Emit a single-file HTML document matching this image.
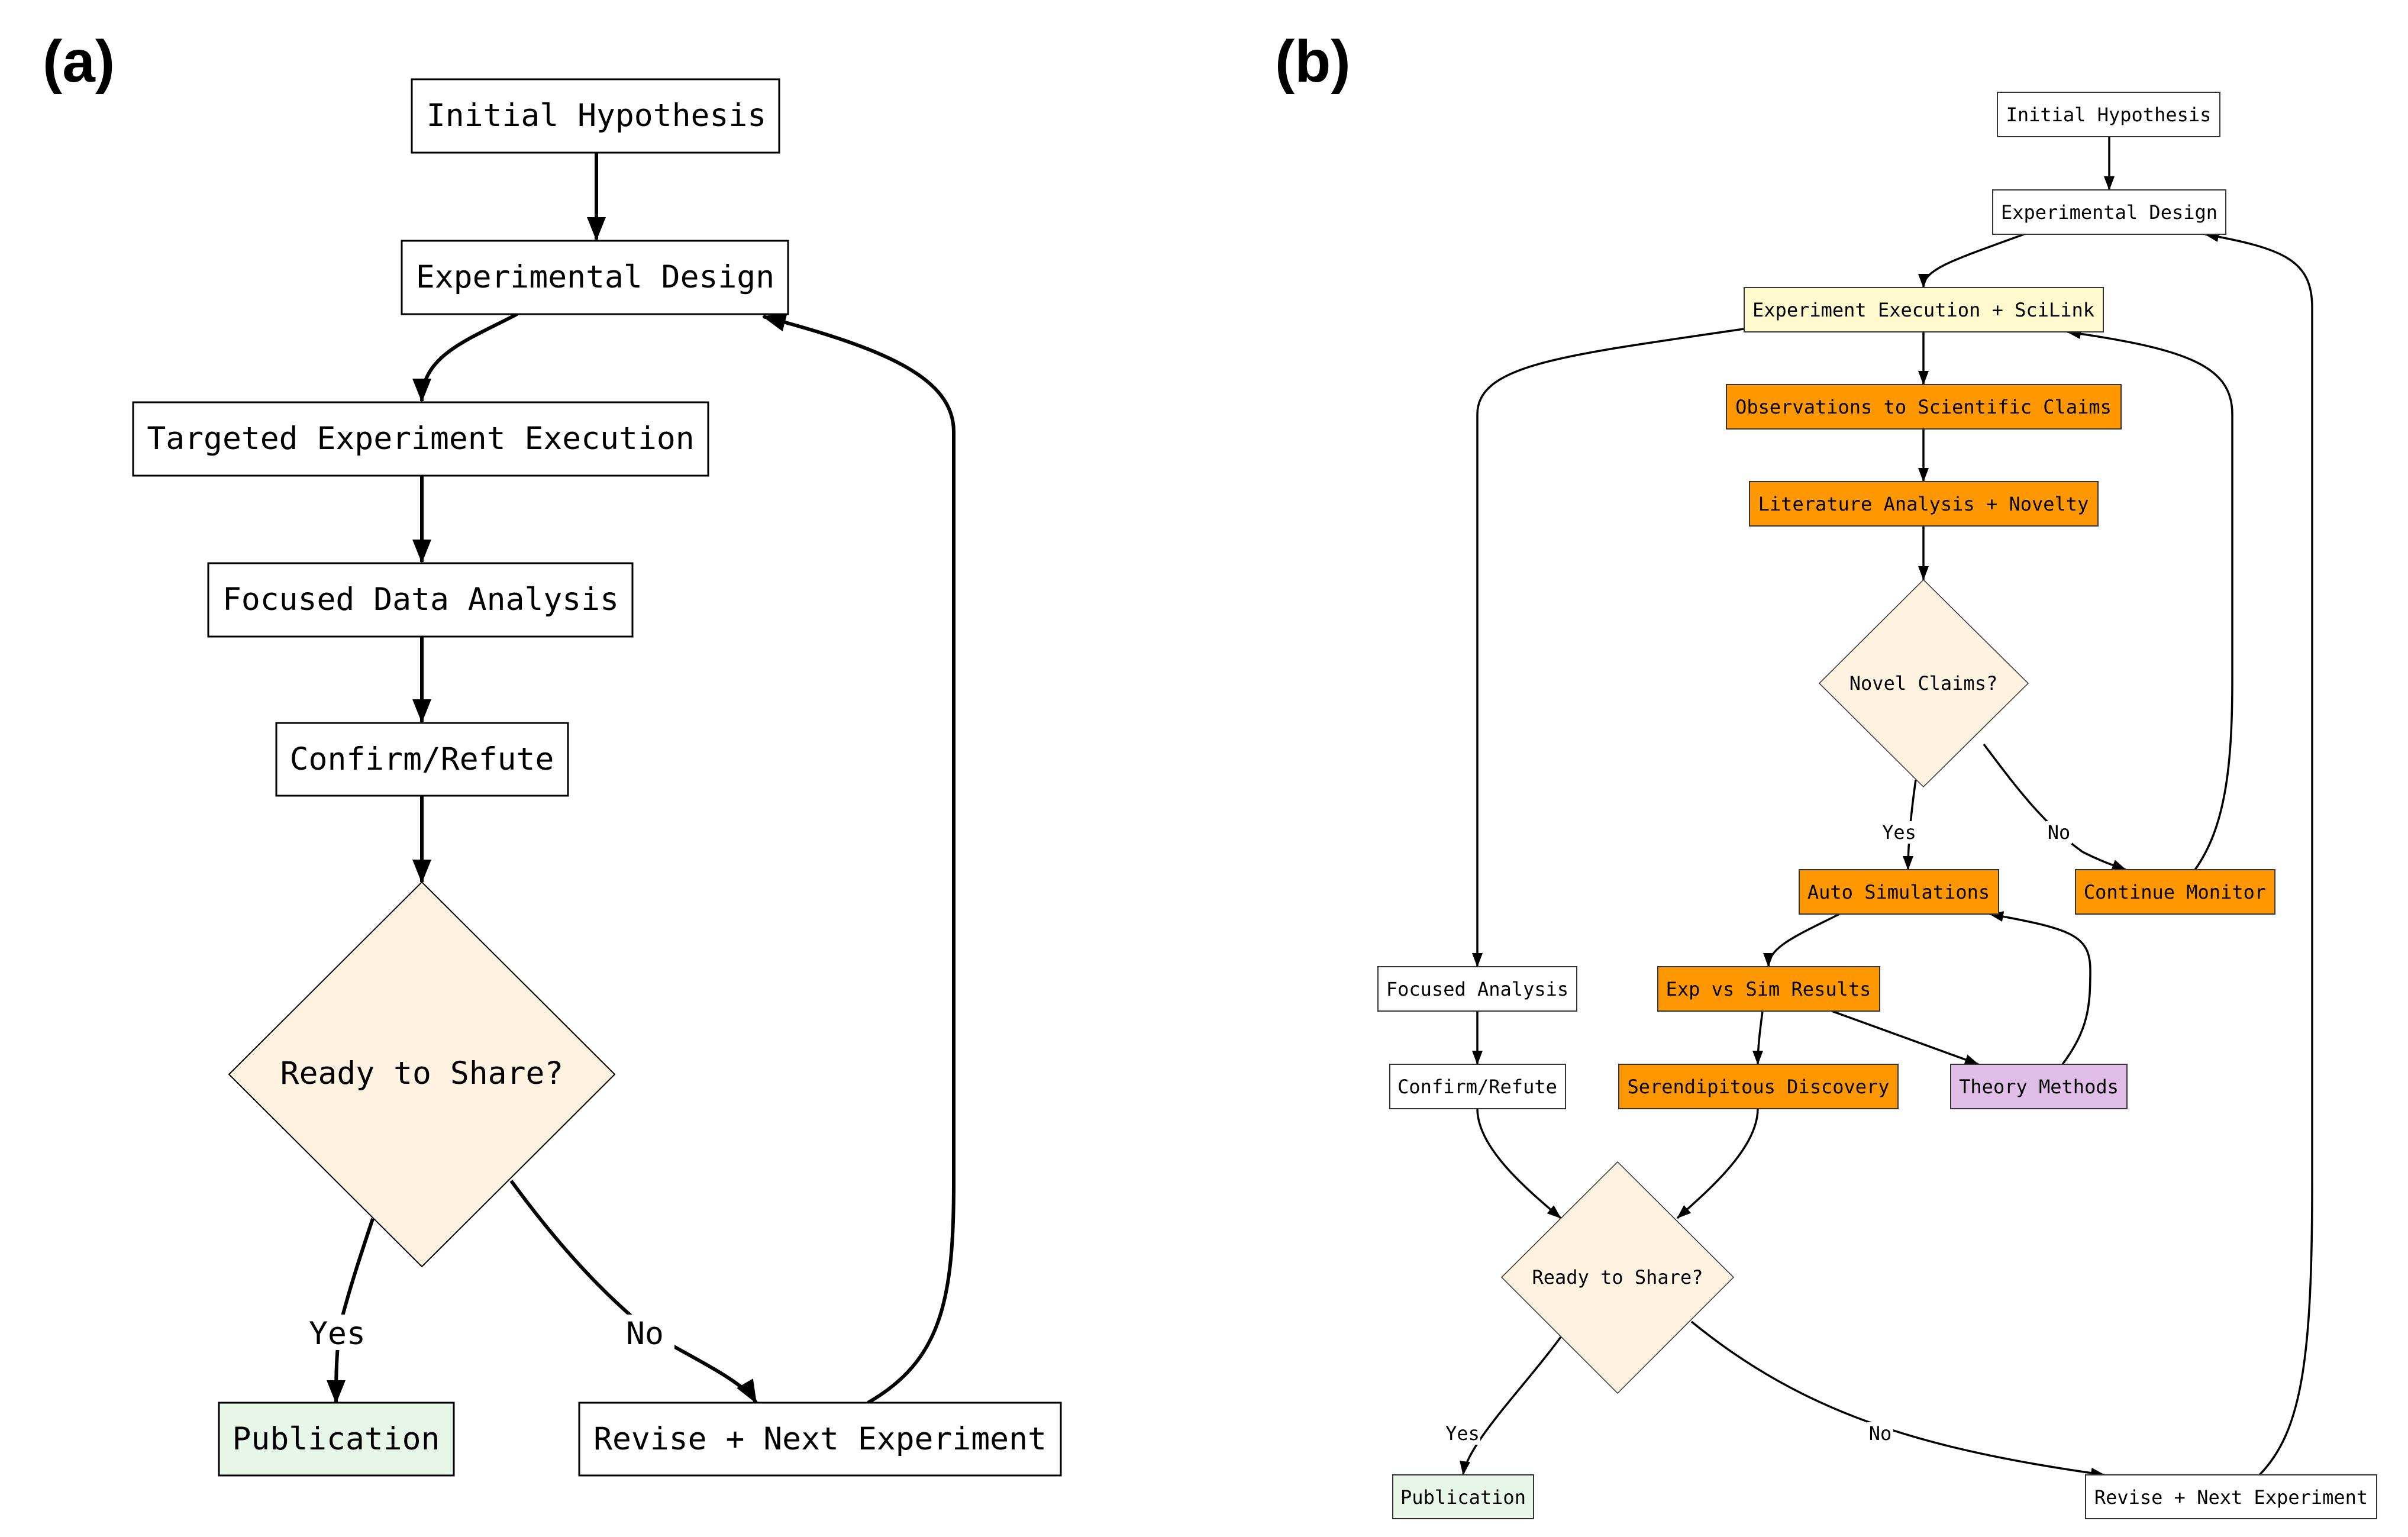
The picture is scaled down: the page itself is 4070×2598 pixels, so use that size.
<!DOCTYPE html>
<html><head><meta charset="utf-8"><style>
html,body{margin:0;padding:0;background:#fff;}
svg{display:block;}
.ta{font-family:"DejaVu Sans Mono","Liberation Mono",monospace;font-size:53px;fill:#000;}
.tb{font-family:"DejaVu Sans Mono","Liberation Mono",monospace;font-size:32px;fill:#000;}
</style></head><body>
<svg width="4070" height="2598" viewBox="0 0 4070 2598" xmlns="http://www.w3.org/2000/svg">
<defs>
<marker id="ma" markerUnits="userSpaceOnUse" markerWidth="40" markerHeight="40" viewBox="0 0 40 40" refX="38" refY="20" orient="auto"><path d="M0,4 L40,20 L0,36 z" fill="#000"/></marker>
<marker id="mb" markerUnits="userSpaceOnUse" markerWidth="24" markerHeight="24" viewBox="0 0 24 24" refX="23" refY="12" orient="auto"><path d="M0,3 L24,12 L0,21 z" fill="#000"/></marker>
</defs>
<rect width="4070" height="2598" fill="#fff"/>
<text x="72" y="138" font-family="Liberation Sans,sans-serif" font-weight="bold" font-size="100">(a)</text>
<text x="2155" y="138" font-family="Liberation Sans,sans-serif" font-weight="bold" font-size="100">(b)</text>

<!-- Panel A edges -->
<g fill="none" stroke="#000" stroke-width="6" marker-end="url(#ma)">
<path d="M1008,258 L1008,405"/>
<path d="M874,531 C790,575 713,600 713,678"/>
<path d="M713,804 L713,950"/>
<path d="M713,1077 L713,1220"/>
<path d="M713,1343 C713,1400 713,1440 713,1491"/>
<path d="M630,2060 C610,2120 590,2180 575,2240 C568,2290 568,2330 568,2371"/>
<path d="M864,1996 C940,2100 1020,2190 1110,2260 C1200,2310 1260,2340 1278,2371"/>
<path d="M1467,2371 C1590,2300 1612,2200 1612,2000 L1612,730 C1612,640 1500,590 1290,535"/>
</g>

<!-- Panel A nodes -->
<g stroke="#000" stroke-width="3">
<rect x="696" y="134" width="621" height="124" fill="#fff"/>
<rect x="679" y="407" width="653" height="124" fill="#fff"/>
<rect x="225" y="680" width="972" height="124" fill="#fff"/>
<rect x="352" y="952" width="717" height="124" fill="#fff"/>
<rect x="467" y="1222" width="493" height="123" fill="#fff"/>
<polygon points="713,1491 1039,1816 713,2141 387,1816" fill="#fff2e0" stroke-width="2"/>
<rect x="370" y="2371" width="397" height="123" fill="#e8f5e9"/>
<rect x="979" y="2371" width="814" height="123" fill="#fff"/>
</g>
<g class="ta" text-anchor="middle">
<text x="1008" y="213">Initial Hypothesis</text>
<text x="1006" y="486">Experimental Design</text>
<text x="711" y="759">Targeted Experiment Execution</text>
<text x="711" y="1031">Focused Data Analysis</text>
<text x="713" y="1301">Confirm/Refute</text>
<text x="713" y="1832">Ready to Share?</text>
<text x="568" y="2450">Publication</text>
<text x="1386" y="2450">Revise + Next Experiment</text>
</g>
<rect x="505" y="2222" width="130" height="60" fill="#fff"/>
<rect x="1040" y="2222" width="100" height="60" fill="#fff"/>
<text class="ta" x="570" y="2272" text-anchor="middle">Yes</text>
<text class="ta" x="1090" y="2272" text-anchor="middle">No</text>

<!-- Panel B edges -->
<g fill="none" stroke="#000" stroke-width="3.5" marker-end="url(#mb)">
<path d="M3565,231 L3565,321"/>
<path d="M3421,396 C3300,440 3251,455 3251,486"/>
<path d="M2947,556 C2650,600 2497,615 2497,700 L2497,1634"/>
<path d="M3251,561 L3251,650"/>
<path d="M3251,725 L3251,814"/>
<path d="M3251,889 L3251,980"/>
<path d="M3238,1318 C3232,1360 3225,1420 3225,1470"/>
<path d="M3353,1258 C3400,1320 3450,1390 3520,1440 C3560,1460 3580,1465 3593,1470"/>
<path d="M3710,1470 C3760,1400 3773,1300 3773,1150 L3773,700 C3773,620 3700,590 3494,561"/>
<path d="M3819,2493 C3890,2420 3908,2300 3908,2000 L3908,520 C3908,440 3860,420 3727,396"/>
<path d="M3109,1545 C3040,1580 2989,1600 2989,1634"/>
<path d="M2979,1709 C2975,1740 2971,1770 2971,1799"/>
<path d="M3096,1709 L3344,1799"/>
<path d="M3486,1799 C3530,1740 3533,1700 3533,1640 C3533,1580 3500,1570 3363,1545"/>
<path d="M2497,1709 L2497,1799"/>
<path d="M2497,1874 C2497,1940 2580,2010 2638,2059"/>
<path d="M2971,1874 C2971,1940 2890,2010 2835,2059"/>
<path d="M2638,2260 C2580,2340 2480,2440 2473,2493"/>
<path d="M2859,2234 C3050,2390 3250,2450 3557,2493"/>
</g>

<!-- Panel B nodes -->
<g stroke="#333" stroke-width="2">
<rect x="3376" y="156" width="376" height="75" fill="#fff"/>
<rect x="3368" y="321" width="394" height="75" fill="#fff"/>
<rect x="2948" y="486" width="607" height="75" fill="#fffacd"/>
<rect x="2918" y="650" width="667" height="75" fill="#ff9800"/>
<rect x="2957" y="814" width="589" height="75" fill="#ff9800"/>
<polygon points="3251,980 3428,1155 3251,1330 3075,1155" fill="#fff2e0" stroke-width="1.5"/>
<rect x="3041" y="1470" width="337" height="75" fill="#ff9800"/>
<rect x="3508" y="1470" width="337" height="75" fill="#ff9800"/>
<rect x="2329" y="1634" width="336" height="75" fill="#fff"/>
<rect x="2802" y="1634" width="375" height="75" fill="#ff9800"/>
<rect x="2349" y="1799" width="297" height="75" fill="#fff"/>
<rect x="2736" y="1799" width="472" height="75" fill="#ff9800"/>
<rect x="3297" y="1799" width="298" height="75" fill="#e1bee7"/>
<polygon points="2734,1964 2930,2159 2734,2355 2538,2159" fill="#fff2e0" stroke-width="1.5"/>
<rect x="2354" y="2493" width="238" height="74" fill="#e8f5e9"/>
<rect x="3525" y="2493" width="492" height="74" fill="#fff"/>
</g>
<g class="tb" text-anchor="middle">
<text x="3564" y="205">Initial Hypothesis</text>
<text x="3565" y="370">Experimental Design</text>
<text x="3251" y="535">Experiment Execution + SciLink</text>
<text x="3251" y="699">Observations to Scientific Claims</text>
<text x="3251" y="863">Literature Analysis + Novelty</text>
<text x="3251" y="1166">Novel Claims?</text>
<text x="3209" y="1519">Auto Simulations</text>
<text x="3676" y="1519">Continue Monitor</text>
<text x="2497" y="1683">Focused Analysis</text>
<text x="2989" y="1683">Exp vs Sim Results</text>
<text x="2497" y="1848">Confirm/Refute</text>
<text x="2972" y="1848">Serendipitous Discovery</text>
<text x="3446" y="1848">Theory Methods</text>
<text x="2734" y="2170">Ready to Share?</text>
<text x="2473" y="2542">Publication</text>
<text x="3771" y="2542">Revise + Next Experiment</text>
</g>
<rect x="3180" y="1388" width="60" height="38" fill="#fff"/>
<rect x="3458" y="1388" width="44" height="38" fill="#fff"/>
<rect x="2442" y="2404" width="60" height="38" fill="#fff"/>
<rect x="3156" y="2404" width="44" height="38" fill="#fff"/>
<g class="tb" text-anchor="middle">
<text x="3210" y="1418">Yes</text>
<text x="3480" y="1418">No</text>
<text x="2472" y="2434">Yes</text>
<text x="3178" y="2434">No</text>
</g>
</svg>
</body></html>
